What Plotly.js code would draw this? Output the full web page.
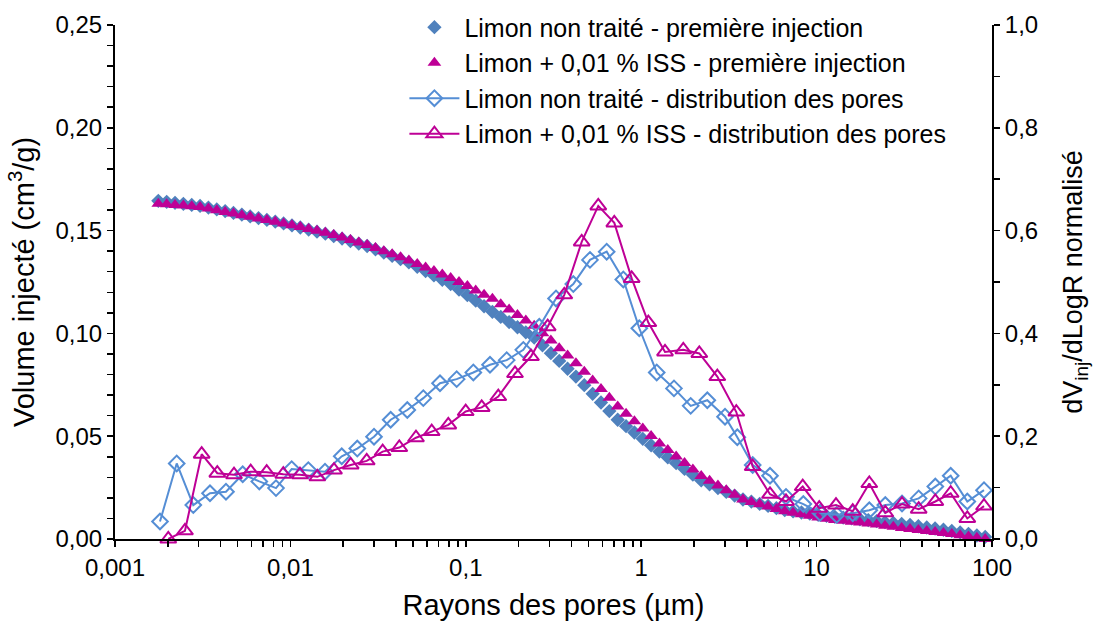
<!DOCTYPE html>
<html>
<head>
<meta charset="utf-8">
<script src="https://cdn.plot.ly/plotly-3.0.1.min.js"></script>
<style>html,body{margin:0;padding:0;background:#fff;}#chart{width:1093px;height:623px;}</style>
</head>
<body>
<div id="chart"></div>
<script>
// Pore radius (µm) for the injection curves
var injRadius = [0.001766, 0.001971, 0.002199, 0.002454, 0.002738, 0.003055, 0.003409, 0.003804, 0.004246, 0.004737, 0.005287, 0.005899, 0.006582, 0.007345, 0.008197, 0.009146,
  0.01021, 0.01139, 0.01271, 0.01418, 0.01582, 0.01766, 0.01971, 0.02199, 0.02454, 0.02738, 0.03055, 0.03409, 0.03804, 0.04246, 0.04737, 0.05287, 0.05899, 0.06582, 0.07345, 0.08197, 0.09146,
  0.1021, 0.1139, 0.1271, 0.1418, 0.1582, 0.1766, 0.1971, 0.2199, 0.2454, 0.2738, 0.3055, 0.3409, 0.3804, 0.4246, 0.4737, 0.5287, 0.5899, 0.6582, 0.7345, 0.8197, 0.9146,
  1.021, 1.139, 1.271, 1.418, 1.582, 1.766, 1.971, 2.199, 2.454, 2.738, 3.055, 3.409, 3.804, 4.246, 4.737, 5.287, 5.899, 6.582, 7.345, 8.197, 9.146,
  10.21, 11.39, 12.71, 14.18, 15.82, 17.66, 19.71, 21.99, 24.54, 27.38, 30.55, 34.09, 38.04, 42.46, 47.37, 52.87, 58.99, 65.82, 73.45, 81.97, 91.46];

// Volume injecté (cm3/g) - Limon non traité
var injUntreated = [0.1645, 0.1640, 0.1635, 0.1630, 0.1625, 0.1620,
  0.1612, 0.1603, 0.1595, 0.1586, 0.1578,
  0.1569, 0.1561, 0.1552, 0.1544, 0.1535,
  0.1525, 0.1515, 0.1505, 0.1495, 0.1485,
  0.1473, 0.1461, 0.1449, 0.1437, 0.1425,
  0.1409, 0.1393, 0.1377, 0.1361, 0.1345,
  0.1324, 0.1303, 0.1282, 0.1261, 0.1240,
  0.1213, 0.1186, 0.1159, 0.1132, 0.1105,
  0.1080, 0.1055, 0.1030, 0.1005, 0.0980,
  0.0942, 0.0904, 0.0866, 0.0828, 0.0790,
  0.0748, 0.0706, 0.0664, 0.0622, 0.0580,
  0.0549, 0.0518, 0.0487, 0.0456, 0.0425,
  0.0397, 0.0369, 0.0341, 0.0313, 0.0285,
  0.0266, 0.0248, 0.0229, 0.0211, 0.0192,
  0.0182, 0.0171, 0.0161, 0.0150, 0.0140,
  0.0134, 0.0129, 0.0123, 0.0118, 0.0112,
  0.0108, 0.0104, 0.0100, 0.0096, 0.0092,
  0.0087, 0.0082, 0.0078, 0.0073, 0.0068,
  0.0062, 0.0056, 0.0051, 0.0045, 0.0039,
  0.0032, 0.0025, 0.0017, 0.0010];

// Volume injecté (cm3/g) - Limon + 0,01 % ISS
var injTreated = [0.1630, 0.1628, 0.1625, 0.1622, 0.1619, 0.1615,
  0.1607, 0.1599, 0.1591, 0.1583, 0.1575,
  0.1567, 0.1559, 0.1551, 0.1543, 0.1535,
  0.1526, 0.1517, 0.1508, 0.1499, 0.1490,
  0.1478, 0.1466, 0.1454, 0.1442, 0.1430,
  0.1415, 0.1400, 0.1385, 0.1370, 0.1355,
  0.1338, 0.1321, 0.1304, 0.1287, 0.1270,
  0.1250, 0.1230, 0.1209, 0.1188, 0.1168,
  0.1142, 0.1116, 0.1090, 0.1063, 0.1037,
  0.1001, 0.0965, 0.0928, 0.0892, 0.0855,
  0.0813, 0.0771, 0.0729, 0.0687, 0.0645,
  0.0609, 0.0573, 0.0537, 0.0501, 0.0465,
  0.0433, 0.0401, 0.0370, 0.0338, 0.0306,
  0.0283, 0.0260, 0.0237, 0.0215, 0.0192,
  0.0180, 0.0169, 0.0158, 0.0146, 0.0135,
  0.0128, 0.0120, 0.0113, 0.0105, 0.0098,
  0.0093, 0.0089, 0.0084, 0.0080, 0.0075,
  0.0070, 0.0065, 0.0059, 0.0054, 0.0049,
  0.0044, 0.0039, 0.0034, 0.0029, 0.0024,
  0.0018, 0.0012, 0.0006, 0.0000];

// Pore size distribution - Limon non traité
var distRadiusUntreated = [0.001805, 0.002248, 0.002795, 0.00348, 0.004293, 0.005347, 0.006647, 0.008278, 0.01017, 0.01265,
  0.01575, 0.01962, 0.02406, 0.02997, 0.0373, 0.04639, 0.05725, 0.07127, 0.08873, 0.1104,
  0.1374, 0.1711, 0.2128, 0.2624, 0.3268, 0.4101, 0.5106, 0.6357, 0.7907, 0.9754,
  1.226, 1.538, 1.915, 2.382, 3.005, 3.531, 4.322, 5.424, 6.692, 8.4,
  10.46, 13.02, 16.07, 19.97, 24.64, 30.69, 38.2, 47.51, 58.15, 72.32, 90.03];
var distUntreated = [0.034, 0.147, 0.066, 0.089, 0.092, 0.126, 0.112, 0.099, 0.136, 0.134,
  0.131, 0.161, 0.176, 0.199, 0.232, 0.251, 0.274, 0.303, 0.311, 0.324,
  0.339, 0.348, 0.368, 0.413, 0.468, 0.496, 0.543, 0.559, 0.505, 0.410,
  0.324, 0.293, 0.259, 0.270, 0.238, 0.198, 0.144, 0.123, 0.082, 0.068,
  0.051, 0.047, 0.050, 0.056, 0.066, 0.069, 0.079, 0.102, 0.123, 0.073, 0.095];

// Pore size distribution - Limon + 0,01 % ISS
var distRadiusTreated = [0.002013, 0.002506, 0.00312, 0.00383, 0.00477, 0.005938, 0.007325, 0.00911, 0.01134, 0.01424,
  0.01773, 0.02207, 0.02723, 0.03358, 0.04177, 0.052, 0.06391, 0.07948, 0.09986, 0.1232,
  0.1532, 0.1908, 0.2353, 0.293, 0.3644, 0.4579, 0.5692, 0.7025, 0.8826, 1.098,
  1.367, 1.738, 2.144, 2.716, 3.485, 4.322, 5.424, 6.692, 8.334, 10.35,
  12.9, 16.07, 19.97, 24.64, 30.69, 38.2, 47.51, 58.15, 72.32, 90.03];
var distTreated = [0.0, 0.016, 0.165, 0.128, 0.125, 0.131, 0.130, 0.126, 0.125, 0.121,
  0.134, 0.144, 0.152, 0.170, 0.178, 0.197, 0.209, 0.222, 0.248, 0.256,
  0.277, 0.322, 0.355, 0.413, 0.475, 0.578, 0.648, 0.615, 0.507, 0.421,
  0.364, 0.368, 0.361, 0.316, 0.247, 0.141, 0.087, 0.073, 0.102, 0.060,
  0.066, 0.054, 0.108, 0.051, 0.068, 0.058, 0.073, 0.089, 0.040, 0.064];

var seriesNames = ['Limon non traité - première injection',
  'Limon + 0,01 % ISS - première injection',
  'Limon non traité - distribution des pores',
  'Limon + 0,01 % ISS - distribution des pores'];

var xTickVals = [0.001, 0.01, 0.1, 1, 10, 100];
var xTickText = ['0,001', '0,01', '0,1', '1', '10', '100'];

var BLUE_DARK = '#4F81BD';
var BLUE = '#558ED5';
var MAGENTA = '#BE0096';
var FONT = 'Liberation Sans, Arial, sans-serif';

var traces = [
  {x: injRadius, y: injUntreated, name: seriesNames[0], type: 'scatter', mode: 'markers',
   marker: {symbol: 'diamond', size: 11, color: BLUE_DARK}, cliponaxis: false},
  {x: injRadius, y: injTreated, name: seriesNames[1], type: 'scatter', mode: 'markers',
   marker: {symbol: 'triangle-up', size: 12, color: MAGENTA}, cliponaxis: false},
  {x: distRadiusUntreated, y: distUntreated, name: seriesNames[2], type: 'scatter', mode: 'lines+markers',
   yaxis: 'y2', line: {color: BLUE, width: 2},
   marker: {symbol: 'diamond-open', size: 12, color: BLUE, line: {width: 2, color: BLUE}}, cliponaxis: false},
  {x: distRadiusTreated, y: distTreated, name: seriesNames[3], type: 'scatter', mode: 'lines+markers',
   yaxis: 'y2', line: {color: MAGENTA, width: 2},
   marker: {symbol: 'triangle-up-open', size: 14, color: MAGENTA, line: {width: 2, color: MAGENTA}}, cliponaxis: false}
];

var axisCommon = {
  showgrid: false, zeroline: false, showline: true, linecolor: '#000', linewidth: 2,
  ticks: 'outside', ticklen: 6, tickwidth: 1.5, tickcolor: '#000', automargin: false,
  tickfont: {family: FONT, size: 24, color: '#000'}
};

var layout = {
  width: 1093, height: 623,
  margin: {l: 115, r: 101, t: 25, b: 84, autoexpand: false},
  paper_bgcolor: '#fff', plot_bgcolor: '#fff',
  separators: ', ',
  font: {family: FONT, color: '#000'},
  showlegend: true,
  legend: {x: 0.33, xanchor: 'left', y: 1.04, yanchor: 'top', bgcolor: 'rgba(0,0,0,0)',
    font: {family: FONT, size: 25, color: '#000'}, itemwidth: 50, tracegroupgap: 0},
  xaxis: Object.assign({}, axisCommon, {
    type: 'log', range: [-3, 2], tickmode: 'array', tickvals: xTickVals, ticktext: xTickText,
    minor: {ticks: 'outside', ticklen: 6, tickwidth: 1.5, tickcolor: '#000', dtick: 'D1', showgrid: false},
    title: {text: 'Rayons des pores (µm)', font: {family: FONT, size: 29, color: '#000'}, standoff: 15}
  }),
  yaxis: Object.assign({}, axisCommon, {
    range: [0, 0.25], dtick: 0.05, tickformat: '.2f',
    minor: {ticks: 'outside', ticklen: 6, tickwidth: 1.5, tickcolor: '#000', dtick: 0.01, showgrid: false},
    title: {text: 'Volume injecté (cm<sup>3</sup>/g)', font: {family: FONT, size: 29, color: '#000'}, standoff: 12}
  }),
  yaxis2: Object.assign({}, axisCommon, {
    overlaying: 'y', side: 'right', range: [0, 1], dtick: 0.2, tickformat: '.1f',
    minor: {ticks: 'outside', ticklen: 6, tickwidth: 1.5, tickcolor: '#000', dtick: 0.1, showgrid: false},
    title: {text: 'dV<sub>inj</sub>/dLogR normalisé', font: {family: FONT, size: 27, color: '#000'}, standoff: 26}
  })
};

Plotly.newPlot('chart', traces, layout, {displayModeBar: false, staticPlot: true});
</script>
</body>
</html>
